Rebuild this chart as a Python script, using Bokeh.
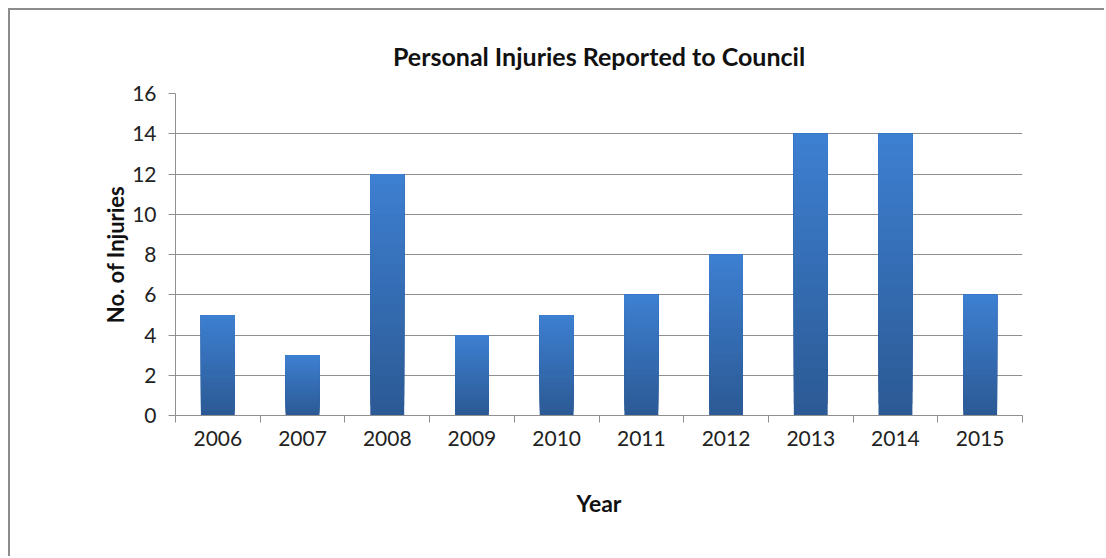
from bokeh.plotting import figure
from bokeh.models import FixedTicker, Range1d, ColumnDataSource
from bokeh.embed import file_html
from bokeh.resources import INLINE
import numpy as np

# ---- data ----
years = ["2006", "2007", "2008", "2009", "2010", "2011", "2012", "2013", "2014", "2015"]
injuries = [5, 3, 12, 4, 5, 6, 8, 14, 14, 6]
y_ticks = [0, 2, 4, 6, 8, 10, 12, 14, 16]

title_text = "Personal Injuries Reported to Council"
x_label = "Year"
y_label = "No. of Injuries"

FONT = "Lato"
TXT = "#222222"
GRID = "#8f8f8f"

p = figure(width=1096, height=548, output_backend="svg", toolbar_location=None,
           x_range=Range1d(0, len(years)), y_range=Range1d(0, 16),
           min_border_left=165, min_border_right=84, min_border_top=83, min_border_bottom=143,
           title=title_text)
p.margin = (8, 0, 0, 8)
p.styles = {"border-top": "2px solid #8c8c8c", "border-left": "2px solid #8c8c8c"}
p.outline_line_color = None
p.background_fill_color = "white"
p.border_fill_color = "white"

p.title.align = "center"
p.title.text_font = FONT
p.title.text_font_style = "bold"
p.title.text_font_size = "25px"
p.title.text_color = "#111111"
p.title.standoff = 45

# gradient bars built from data: each strip runs from its start up to the bar top,
# drawn bottom (dark) first so upper (lighter) strips overlay without seams
N = 24
c_top = np.array([0x3E, 0x80, 0xD2])
c_bot = np.array([0x2C, 0x5A, 0x95])
lefts, rights, bottoms, tops, colors = [], [], [], [], []
centers = np.arange(len(years)) + 0.5
for k in range(N):
    t = (k + 0.5) / N
    c = (c_bot + (c_top - c_bot) * t).astype(int)
    for cx, v in zip(centers, injuries):
        lefts.append(cx - 0.2)
        rights.append(cx + 0.2)
        bottoms.append(v * k / N)
        tops.append(v)
        colors.append("#%02x%02x%02x" % tuple(c))
src = ColumnDataSource(dict(left=lefts, right=rights, bottom=bottoms, top=tops, color=colors))
p.quad(left="left", right="right", bottom="bottom", top="top", fill_color="color",
       line_color=None, source=src)

# x axis: labels at centers, tick marks at category boundaries
xt = FixedTicker(ticks=list(centers), minor_ticks=list(range(len(years) + 1)))
p.xaxis.ticker = xt
p.xaxis.major_label_overrides = {float(c): y for c, y in zip(centers, years)}
p.xaxis.major_tick_out = 0
p.xaxis.major_tick_in = 0
p.xaxis.minor_tick_out = 7
p.xaxis.minor_tick_in = 0
p.xaxis.minor_tick_line_color = GRID
p.xaxis.axis_line_color = GRID
p.xaxis.major_label_standoff = 8
p.xaxis.axis_label = x_label
p.xaxis.axis_label_standoff = 40

p.yaxis.ticker = FixedTicker(ticks=y_ticks)
p.yaxis.major_tick_out = 7
p.yaxis.major_tick_in = 0
p.yaxis.minor_tick_line_color = None
p.yaxis.major_tick_line_color = GRID
p.yaxis.axis_line_color = GRID
p.yaxis.major_label_standoff = 12
p.yaxis.axis_label = y_label
p.yaxis.axis_label_standoff = 0

for ax in (p.xaxis, p.yaxis):
    ax.major_label_text_font = FONT
    ax.major_label_text_font_size = "21px"
    ax.major_label_text_color = TXT
    ax.axis_label_text_font = FONT
    ax.axis_label_text_font_size = "22px"
    ax.axis_label_text_font_style = "bold"
    ax.axis_label_text_color = "#111111"
p.xaxis.axis_label_text_font_size = "23px"

p.xgrid.grid_line_color = None
p.ygrid.ticker = FixedTicker(ticks=y_ticks)
p.ygrid.grid_line_color = GRID
p.ygrid.grid_line_width = 1

open("out.html", "w").write(file_html(p, INLINE))
